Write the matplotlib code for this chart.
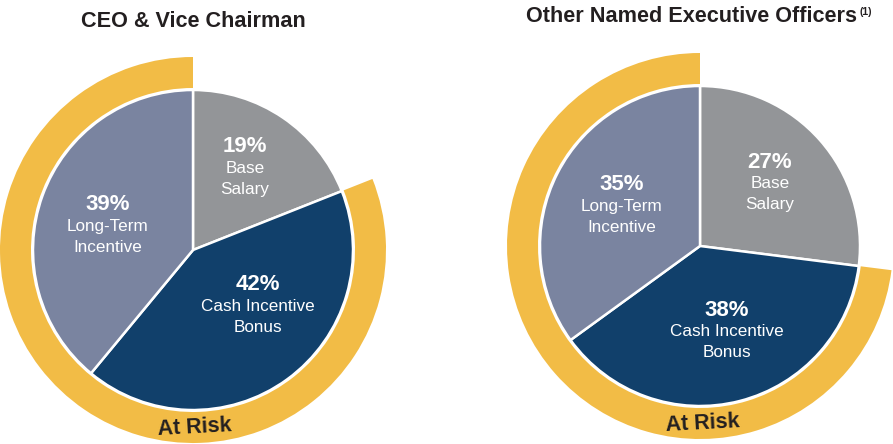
import matplotlib
matplotlib.use("Agg")
import matplotlib.pyplot as plt

# data
categories = ["Base\nSalary", "Cash Incentive\nBonus", "Long-Term\nIncentive"]
ceo_values = [19, 42, 39]
neo_values = [27, 38, 35]
titles = ["CEO & Vice Chairman", "Other Named Executive Officers"]

colors = ["#939598", "#11406b", "#7a84a0"]
gold = "#f2bc46"
dark = "#231f20"

plt.rcParams['font.family'] = ['Liberation Sans', 'DejaVu Sans']

W, H = 893, 444
fig = plt.figure(figsize=(W / 100, H / 100), dpi=100)
ax = fig.add_axes([0, 0, 1, 1])


def py(y):
    # pixel row -> data y (y axis points up)
    return H - y


def draw_pie(values, cx, cy, label_pos, risk_pos):
    center = (cx, py(cy))
    ax.pie(values, center=center, radius=160, startangle=90, counterclock=False,
           colors=colors, wedgeprops=dict(edgecolor="white", linewidth=1.8))
    # outer ring around the at-risk part (everything but base salary)
    at_risk = sum(values[1:])
    ax.pie([values[0], at_risk], center=center, radius=193, startangle=90,
           counterclock=False, colors=["none", gold],
           wedgeprops=dict(width=31, linewidth=0))
    for v, lab, (x, y) in zip(values, categories, label_pos):
        ax.text(x, py(y), f"{v}%", color="white", fontsize=16, fontweight="bold",
                ha="center", va="center")
        ax.text(x, py(y) - 32, lab, color="white", fontsize=12.3,
                ha="center", va="center", linespacing=1.45)
    ax.text(risk_pos[0], py(risk_pos[1]), "At Risk", color=dark, fontsize=15.5,
            fontweight="bold", ha="center", va="center", rotation=3)


draw_pie(ceo_values, 193, 250,
         [(245, 147), (258, 285), (108, 205)], (195, 428))
draw_pie(neo_values, 700, 246,
         [(770, 162), (727, 310), (622, 185)], (703, 424))

ax.text(193, py(22), titles[0], color=dark, fontsize=15.6, fontweight="bold",
        ha="center", va="center")
ax.text(692, py(17), titles[1], color=dark, fontsize=15.6, fontweight="bold",
        ha="center", va="center")
ax.text(859, py(12), "(1)", color=dark, fontsize=7.5, fontweight="bold",
        ha="left", va="center")

ax.set_xlim(0, W)
ax.set_ylim(0, H)
ax.set_aspect("equal")
ax.axis("off")

fig.savefig("out.png", dpi=100, facecolor="white")
